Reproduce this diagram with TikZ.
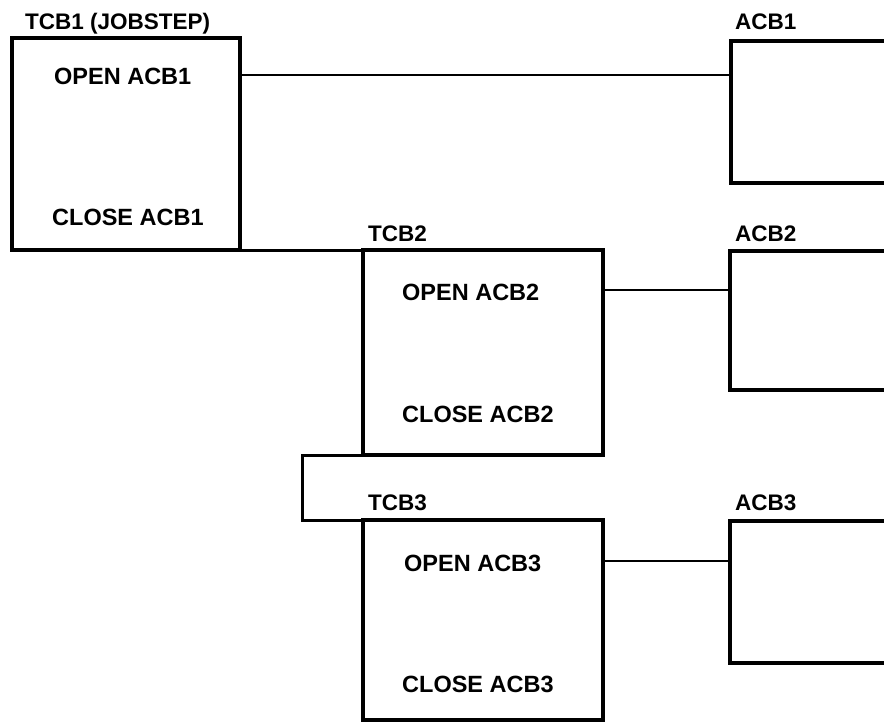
\documentclass[tikz,border=0pt]{standalone}
\usepackage{fontspec}
\setmainfont{Liberation Sans}
\begin{document}
\begin{tikzpicture}[x=1pt,y=-1pt,
  box/.style={draw, line width=4.5pt, rectangle, inner sep=0pt, outer sep=0pt, anchor=north west},
  link/.style={line width=2pt},
  tcblink/.style={line width=3pt, line join=miter},
  lbl/.style={anchor=base west, inner sep=0pt, font=\fontsize{22.5}{26}\selectfont\bfseries},
  txt/.style={anchor=base west, inner sep=0pt, font=\fontsize{23.5}{28}\selectfont\bfseries}]
\useasboundingbox (0,0) rectangle (884,726);
\clip (0,0) rectangle (884,726);
% boxes
\node[box, minimum width=228pt, minimum height=212pt] (tcb1) at (12,38) {};
\node[box, minimum width=240pt, minimum height=205pt] (tcb2) at (363,250) {};
\node[box, minimum width=240pt, minimum height=200pt] (tcb3) at (363,520) {};
\node[box, minimum width=200pt, minimum height=142pt] (acb1) at (731,41) {};
\node[box, minimum width=200pt, minimum height=139pt] (acb2) at (730,251) {};
\node[box, minimum width=200pt, minimum height=142pt] (acb3) at (730,521) {};
% labels
\node[lbl] (t1lab) at (25,29) {TCB1 (JOBSTEP)};
\node[lbl] (a1lab) at (735,29) {ACB1};
\node[lbl] (t2lab) at (368,241) {TCB2};
\node[lbl] (a2lab) at (735,241) {ACB2};
\node[lbl] (t3lab) at (368,510) {TCB3};
\node[lbl] (a3lab) at (735,510) {ACB3};
\node[txt] (open1) at (54,84) {OPEN ACB1};
\node[txt] (close1) at (52,225) {CLOSE ACB1};
\node[txt] (open2) at (402,300) {OPEN ACB2};
\node[txt] (close2) at (402,422) {CLOSE ACB2};
\node[txt] (open3) at (404,571) {OPEN ACB3};
\node[txt] (close3) at (402,692) {CLOSE ACB3};
% connectors
\coordinate (c1) at (0,75);
\coordinate (c2) at (0,290);
\coordinate (c3) at (0,561);
\coordinate (bk) at (302,0);
\draw[link] (tcb1.east |- c1) -- (acb1.west |- c1);
\draw[link] (tcb2.east |- c2) -- (acb2.west |- c2);
\draw[link] (tcb3.east |- c3) -- (acb3.west |- c3);
\draw[tcblink] (tcb1.south east) -- (tcb2.north west);
\draw[tcblink] (tcb2.south west) -- (bk |- tcb2.south west) -- (bk |- tcb3.north west) -- (tcb3.north west);
\end{tikzpicture}
\end{document}
